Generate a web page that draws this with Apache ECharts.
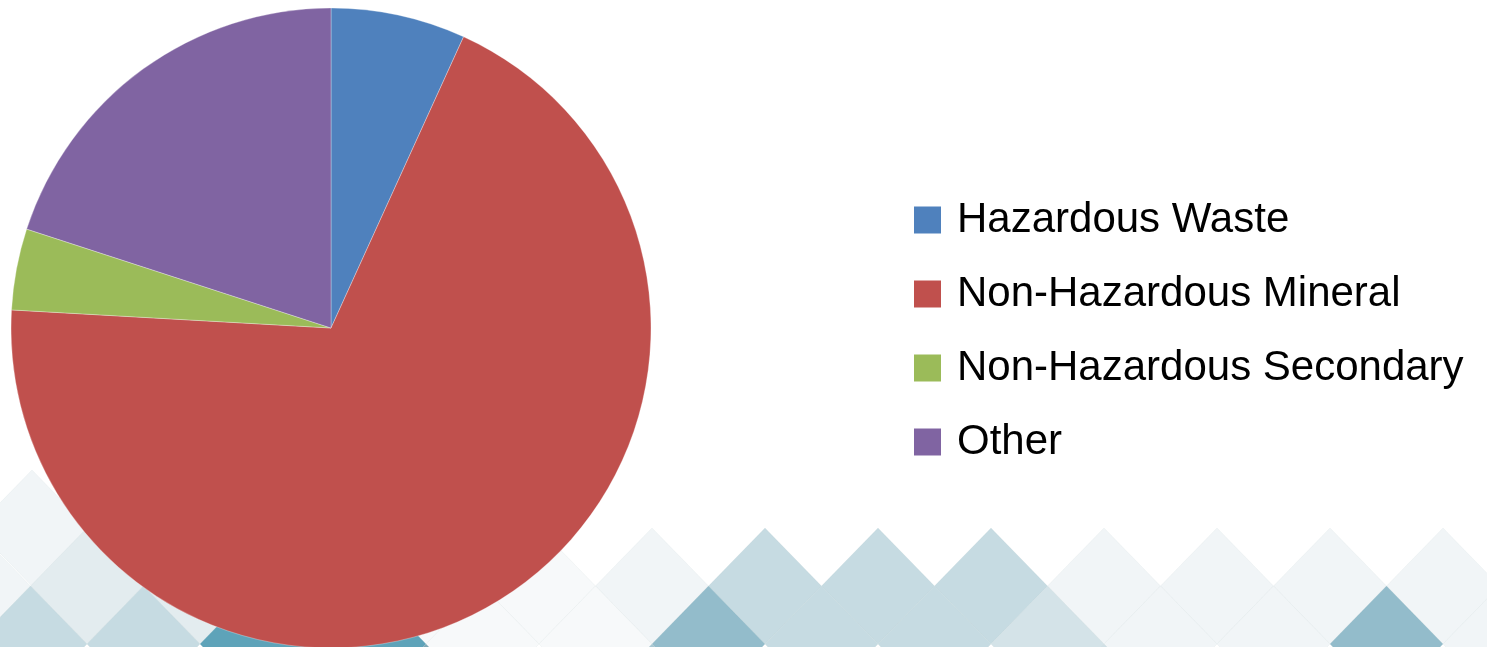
<!DOCTYPE html>
<html>
<head>
<meta charset="utf-8">
<script src="https://cdn.jsdelivr.net/npm/echarts@6/dist/echarts.min.js"></script>
<style>
html,body{margin:0;padding:0;background:#fff;}
#chart{width:1487px;height:647px;}
</style>
</head>
<body>
<div id="chart"></div>
<script>
// Data
var categories = ['Hazardous Waste', 'Non-Hazardous Mineral', 'Non-Hazardous Secondary', 'Other'];
var values = [6.8, 69.1, 4.1, 20.0];
var colors = ['#4f81bd', '#c0504d', '#9bbb59', '#8064a2'];

// Decorative background diamonds (not data): rows of tiles
var VL = '#f1f5f7', L = '#e3ecef', M = '#c6dbe2', MD = '#d4e3e8', D = '#93bccb', T = '#5ea3b9', W = '#f7f9fa';
var rowA = [[32, VL], [145, VL]];
var rowB = [[-26, VL], [87, L], [200, L], [313, L], [426, W], [539, W], [652, VL], [765, M], [878, M], [991, M], [1104, VL], [1217, VL], [1330, VL], [1443, VL]];
var rowC = [[30.5, M], [143.5, M], [256.5, T], [369.5, T], [482.5, W], [595.5, W], [708.5, D], [821.5, M], [934.5, M], [1047.5, MD], [1160.5, VL], [1273.5, VL], [1386.5, D], [1499.5, VL]];
var rowD = [[426, '#7fa9b6'], [652, '#a9c8d3'], [1104, '#d0e0e6']];

var hw = 56.5, hh = 58;
var graphics = [];
function addRow(row, py) {
  row.forEach(function (d) {
    var x = d[0];
    graphics.push({
      type: 'polygon',
      z: -10,
      silent: true,
      shape: { points: [[x, py], [x + hw, py + hh], [x, py + 2 * hh], [x - hw, py + hh]] },
      style: { fill: d[1], stroke: 'rgba(120,150,160,0.06)', lineWidth: 1 }
    });
  });
}
addRow(rowA, 470);
addRow(rowB, 528);
addRow(rowC, 586);
addRow(rowD, 644);

var chart = echarts.init(document.getElementById('chart'));
chart.setOption({
  animation: false,
  backgroundColor: '#ffffff',
  graphic: graphics,
  legend: {
    orient: 'vertical',
    left: 909,
    top: 194,
    itemWidth: 27,
    itemHeight: 27,
    itemGap: 32,
    icon: 'rect',
    itemStyle: { borderWidth: 0 },
    data: categories,
    textStyle: {
      fontFamily: 'Liberation Sans',
      fontSize: 42,
      lineHeight: 42,
      color: '#000',
      padding: [0, 0, 0, 11]
    }
  },
  series: [{
    type: 'pie',
    z: 5,
    center: [331, 328],
    radius: 320,
    startAngle: 90,
    clockwise: true,
    label: { show: false },
    labelLine: { show: false },
    itemStyle: { borderColor: 'rgba(255,255,255,0.6)', borderWidth: 0.5 },
    emphasis: { disabled: true },
    data: categories.map(function (c, i) {
      return { name: c, value: values[i], itemStyle: { color: colors[i] } };
    })
  }]
});
</script>
</body>
</html>
